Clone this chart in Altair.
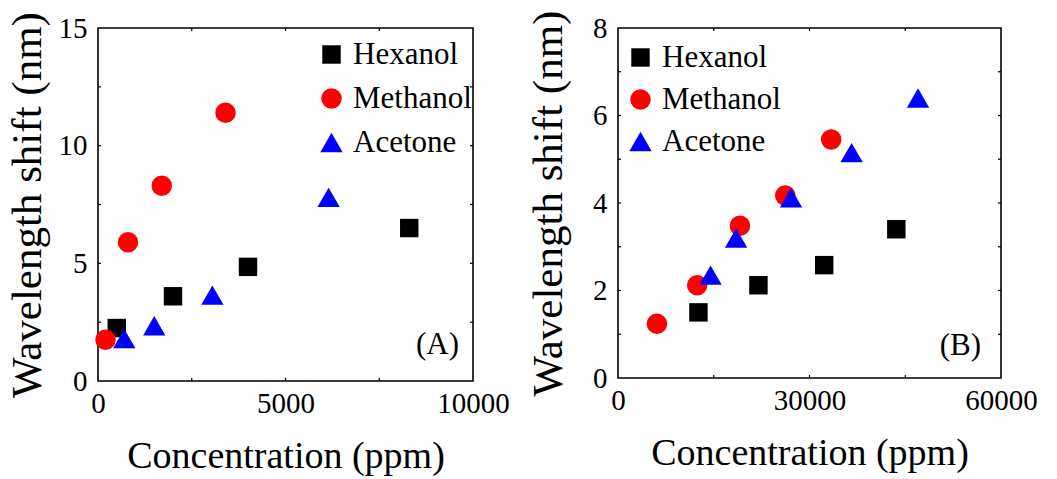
import altair as alt
import pandas as pd

# ---------------- data ----------------
solvents = ["Hexanol", "Methanol", "Acetone"]
colors = ["#000000", "#FF0000", "#0000FF"]
shapes = ["square", "circle", "triangle-up"]
marker_sizes = [340, 500, 560]

# Panel A
a_hex_x = [500, 2000, 4000, 8300]
a_hex_y = [2.25, 3.6, 4.85, 6.5]
a_meth_x = [200, 800, 1700, 3400]
a_meth_y = [1.75, 5.9, 8.3, 11.4]
a_ace_x = [700, 1500, 3050, 6150]
a_ace_y = [1.8, 2.35, 3.65, 7.8]

# Panel B
b_hex_x = [12600, 22000, 32300, 43600]
b_hex_y = [1.5, 2.12, 2.58, 3.4]
b_meth_x = [6100, 12400, 19100, 26200, 33400]
b_meth_y = [1.24, 2.12, 3.48, 4.17, 5.45]
b_ace_x = [14500, 18500, 27100, 36600, 47000]
b_ace_y = [2.35, 3.2, 4.12, 5.15, 6.4]

# axes
a_x_domain = [0, 10000]
a_x_ticks = [2500, 5000, 7500]
a_x_labels = [0, 5000, 10000]
a_y_domain = [0, 15]
a_y_ticks = [2.5, 5, 7.5, 10, 12.5]
a_y_labels = [0, 5, 10, 15]

b_x_domain = [0, 60000]
b_x_ticks = [15000, 30000, 45000]
b_x_labels = [0, 30000, 60000]
b_y_domain = [0, 8]
b_y_ticks = [1, 2, 3, 4, 5, 6, 7]
b_y_labels = [0, 2, 4, 6, 8]

x_title = "Concentration (ppm)"
y_title = "Wavelength shift (nm)"
panel_labels = ["(A)", "(B)"]

FONT = "Liberation Serif"
TICK_LEN = 3


def make_df(series):
    rows = []
    for name, xs, ys in series:
        for xv, yv in zip(xs, ys):
            rows.append({"solvent": name, "conc": xv, "shift": yv})
    return pd.DataFrame(rows)


df_a = make_df([("Hexanol", a_hex_x, a_hex_y),
                ("Methanol", a_meth_x, a_meth_y),
                ("Acetone", a_ace_x, a_ace_y)])
df_b = make_df([("Hexanol", b_hex_x, b_hex_y),
                ("Methanol", b_meth_x, b_meth_y),
                ("Acetone", b_ace_x, b_ace_y)])


def panel(df, xdom, xticks, xlabs, ydom, yticks, ylabs, label, w, h,
          leg_x, leg_y, row_pad, lab_dx, lab_dy, ytitle_pad):
    xs = alt.Scale(domain=xdom, nice=False, zero=False)
    ys = alt.Scale(domain=ydom, nice=False, zero=False)
    base = alt.Chart(df)
    leg = alt.Legend(orient="none", legendX=leg_x, legendY=leg_y, title=None,
                     rowPadding=row_pad)
    pts = base.mark_point(filled=True, opacity=1, strokeWidth=0).encode(
        x=alt.X("conc:Q", scale=xs, axis=alt.Axis(
            values=xlabs, format="d", ticks=False, domain=False,
            title=x_title, orient="bottom",
            labelPadding=8, labelFlush=False, labelOverlap=False,
            titlePadding=19)),
        y=alt.Y("shift:Q", scale=ys, axis=alt.Axis(
            values=ylabs, format="d", ticks=False, domain=False,
            title=y_title, orient="left",
            labelPadding=11, labelFlush=False, labelOverlap=False,
            titlePadding=ytitle_pad)),
        color=alt.Color("solvent:N", scale=alt.Scale(domain=solvents, range=colors),
                        legend=leg),
        shape=alt.Shape("solvent:N", scale=alt.Scale(domain=solvents, range=shapes),
                        legend=leg),
        size=alt.Size("solvent:N", scale=alt.Scale(domain=solvents, range=marker_sizes),
                      legend=None),
        order=alt.Order("idx:Q"),
    ).transform_calculate(
        idx=f"indexof({solvents}, datum.solvent)"
    )

    # inward tick marks on all four sides of the frame
    xt = alt.Chart(pd.DataFrame({"v": xticks}))
    yt = alt.Chart(pd.DataFrame({"v": yticks}))
    tick_style = dict(color="black", size=TICK_LEN, thickness=1.2, opacity=1)
    t_bottom = xt.mark_tick(orient="vertical", yOffset=-TICK_LEN / 2, **tick_style).encode(
        x=alt.X("v:Q", axis=None), y=alt.Y(datum=ydom[0], axis=None))
    t_top = xt.mark_tick(orient="vertical", yOffset=TICK_LEN / 2, **tick_style).encode(
        x=alt.X("v:Q", axis=None), y=alt.Y(datum=ydom[1], axis=None))
    t_left = yt.mark_tick(orient="horizontal", xOffset=TICK_LEN / 2, **tick_style).encode(
        y=alt.Y("v:Q", axis=None), x=alt.X(datum=xdom[0], axis=None))
    t_right = yt.mark_tick(orient="horizontal", xOffset=-TICK_LEN / 2, **tick_style).encode(
        y=alt.Y("v:Q", axis=None), x=alt.X(datum=xdom[1], axis=None))

    txt = alt.Chart(pd.DataFrame({"t": [label]})).mark_text(
        font=FONT, fontSize=31, align="right", baseline="middle",
        dx=lab_dx, dy=lab_dy, color="black"
    ).encode(
        x=alt.X(datum=xdom[1], axis=None),
        y=alt.Y(datum=ydom[0], axis=None),
        text="t:N",
    )
    return alt.layer(pts, t_bottom, t_top, t_left, t_right, txt).resolve_axis(
        x="independent", y="independent"
    ).properties(width=w, height=h)


left = panel(df_a, a_x_domain, a_x_ticks, a_x_labels, a_y_domain, a_y_ticks, a_y_labels,
             panel_labels[0], 375, 353, 218, 11, 12, -14, -36, 9)
right = panel(df_b, b_x_domain, b_x_ticks, b_x_labels, b_y_domain, b_y_ticks, b_y_labels,
              panel_labels[1], 383, 350, 7, 14, 10, -20, -32, 22)

chart = alt.hconcat(left, right, spacing=15).resolve_scale(
    color="independent", shape="independent", size="independent"
).properties(
    padding={"left": 5, "top": 9, "right": 5, "bottom": 5},
    background="white",
).configure_view(stroke="black", strokeWidth=1.6).configure_axis(
    labelFont=FONT, labelFontSize=29, labelColor="black",
    titleFont=FONT, titleFontSize=40, titleColor="black", titleFontWeight="normal",
    grid=False,
).configure_axisX(titleFontSize=38).configure_axisY(titleFontSize=43).configure_legend(
    labelFont=FONT, labelFontSize=31, labelColor="black",
    symbolSize=160, symbolStrokeWidth=0, symbolOpacity=1,
    labelOffset=6, padding=0,
)

chart.save("out.html", embed_options={"renderer": "svg", "actions": False})
